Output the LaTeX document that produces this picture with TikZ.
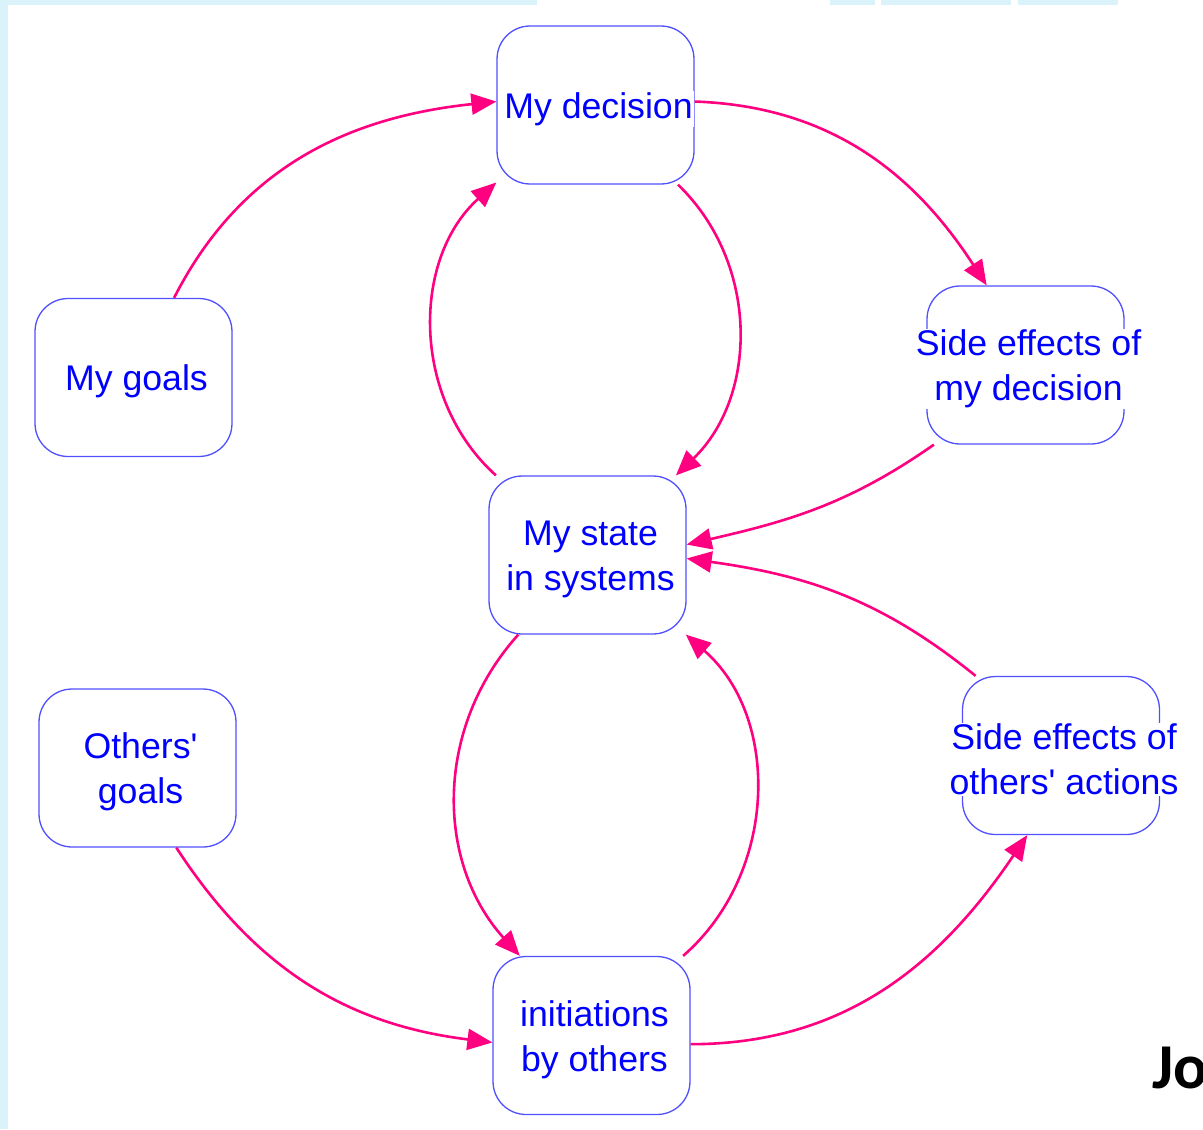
\documentclass[tikz,border=0pt]{standalone}
\usepackage{fontspec}
\setmainfont{Liberation Sans}
\newfontfamily\jofont{Carlito}
\usetikzlibrary{arrows.meta}
\definecolor{linkpink}{RGB}{255,0,128}
\definecolor{boxblue}{RGB}{80,80,255}
\definecolor{textblue}{RGB}{0,0,255}
\definecolor{stripblue}{RGB}{218,242,250}
\begin{document}
\begin{tikzpicture}[x=0.02cm,y=-0.02cm,
  vbox/.style={draw=boxblue, line width=0.026cm, rounded corners=0.66cm,
    minimum width=3.94cm, minimum height=3.16cm, inner sep=0pt},
  vtext/.style={fill=white, text=textblue, inner xsep=0.03cm, inner ysep=0.02cm,
    align=center, font=\fontsize{20.3}{25.6}\selectfont,
    xshift=0.06cm, yshift=-0.08cm},
  link/.style={draw=linkpink, line width=0.052cm,
    -{Triangle[length=0.5cm,width=0.42cm]}}
]
\useasboundingbox (0,0) rectangle (1203,1129);
% background strips
\fill[stripblue] (0,0) rectangle (8,1129);
\fill[stripblue] (0,0) rectangle (537,5);
\fill[stripblue] (830,0) rectangle (875,5);
\fill[stripblue] (881,0) rectangle (1011,5);
\fill[stripblue] (1018,0) rectangle (1118,5);

% boxes
\node[vbox] (dec)    at (595.5,105)   {};
\node[vbox] (goals)  at (133.5,377.5) {};
\node[vbox] (sed)    at (1025.5,365)  {};
\node[vbox] (state)  at (587.5,555)   {};
\node[vbox] (ogoals) at (137.5,768)   {};
\node[vbox] (seo)    at (1061,755.5)  {};
\node[vbox] (init)   at (591.5,1035.5){};

% texts
\node[vtext] (decT)    at (dec)    {My decision};
\node[vtext] (goalsT)  at (goals)  {My goals};
\node[vtext] (sedT)    at (sed)    {Side effects of\\my decision};
\node[vtext] (stateT)  at (state)  {My state\\in systems};
\node[vtext] (ogoalsT) at (ogoals) {Others\textquotesingle\\goals};
\node[vtext] (seoT)    at (seo)    {Side effects of\\others\textquotesingle{} actions};
\node[vtext] (initT)   at (init)   {initiations\\by others};

\node[anchor=base west, inner sep=0pt,
  font=\jofont\bfseries\fontsize{36.4}{40}\selectfont] (jo) at (1152,1088) {Jo};

% links
\draw[link] (goals.63) to[out=63,in=186] (dec.178);
\draw[link] (dec.2) to[out=-2,in=123] (sed.116);
\draw[link] (dec.-44) to[out=-44,in=44] (state.42);
\draw[link] (state.139) to[out=138,in=222] (dec.-142);
\draw[link] (sed.-139) to[out=215,in=13] (state.6);
\draw[link] (seo.137) to[out=141,in=-8] (state.-2);
\draw[link] (state.-131) to[out=228,in=132] (init.132);
\draw[link] (init.41) to[out=41,in=-41] (state.-39);
\draw[link] (ogoals.-64) to[out=-57,in=173] (init.-176);
\draw[link] (init.-5) to[out=0,in=236] (seo.-113);
\end{tikzpicture}
\end{document}
